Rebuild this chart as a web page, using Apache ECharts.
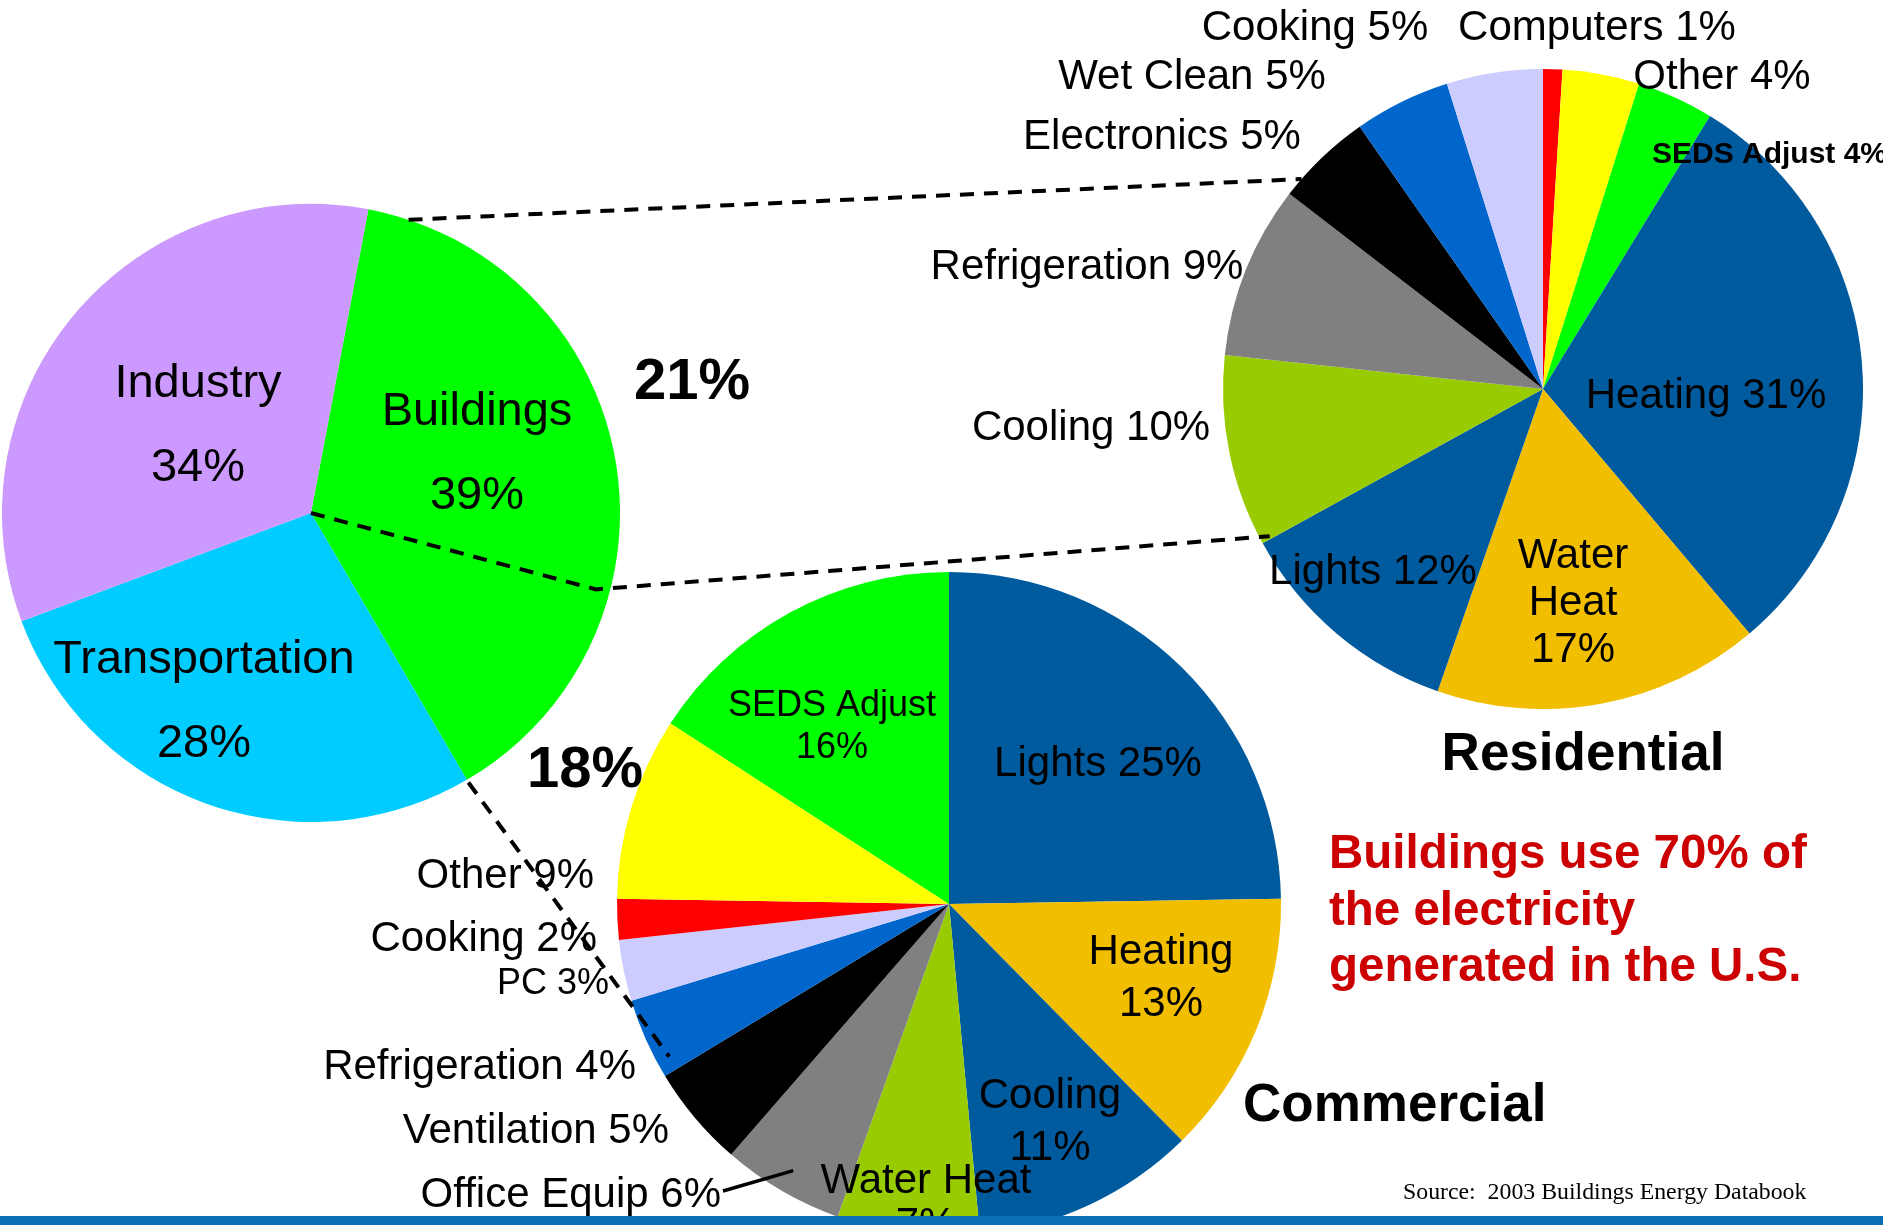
<!DOCTYPE html>
<html><head><meta charset="utf-8">
<script src="https://cdn.jsdelivr.net/npm/echarts@6/dist/echarts.min.js"></script>
<style>html,body{margin:0;padding:0;background:#fff}#c{width:1883px;height:1225px}</style>
</head><body><div id="c"></div>
<script>
// ---------- data ----------
const mainNames = ['Buildings', 'Transportation', 'Industry'];
const mainValues = [39, 28, 34];
const buildingShares = ['21%', '18%'];           // residential / commercial share of all energy
const resNames = ['Computers', 'Other', 'SEDS Adjust', 'Heating', 'Water Heat', 'Lights', 'Cooling', 'Refrigeration', 'Electronics', 'Wet Clean', 'Cooking'];
const resValues = [1, 4, 4, 31, 17, 12, 10, 9, 5, 5, 5];
const comNames = ['Lights', 'Heating', 'Cooling', 'Water Heat', 'Office Equip', 'Ventilation', 'Refrigeration', 'PC', 'Cooking', 'Other', 'SEDS Adjust'];
const comValues = [25, 13, 11, 7, 6, 5, 4, 3, 2, 9, 16];
const titles = ['Residential', 'Commercial'];
const message = 'Buildings use 70% of\nthe electricity\ngenerated in the U.S.';
const source = 'Source:  2003 Buildings Energy Databook';

// ---------- styles / layout ----------
const FONT = '"Liberation Sans", Arial, Helvetica, sans-serif';
const DKBLUE = '#005a9e';
const colorOf = {
  'Buildings': '#00ff00', 'Transportation': '#00ccff', 'Industry': '#cc99ff',
  'Computers': '#ff0000', 'Other': '#ffff00', 'SEDS Adjust': '#00ff00', 'Heating': DKBLUE,
  'Water Heat': '#f2be00', 'Lights': DKBLUE, 'Cooling': '#99cc00', 'Refrigeration': '#808080',
  'Electronics': '#000000', 'Wet Clean': '#0066cc', 'Cooking': '#ccccff'
};
const comColorOf = {
  'Lights': DKBLUE, 'Heating': '#f2be00', 'Cooling': DKBLUE, 'Water Heat': '#99cc00',
  'Office Equip': '#808080', 'Ventilation': '#000000', 'Refrigeration': '#0066cc',
  'PC': '#ccccff', 'Cooking': '#ff0000', 'Other': '#ffff00', 'SEDS Adjust': '#00ff00'
};
const mainC = [311, 513], mainR = 309, mainStart = 79.3;
const resC = [1543, 389], resR = 320;
const comC = [949, 904], comR = 332;

const mainLabelPos = { 'Buildings': [477, 454], 'Transportation': [204, 702], 'Industry': [198, 426] };
const resLabelPos = {
  'Computers': [1597, 28], 'Other': [1722, 77], 'SEDS Adjust': [1652, 155, 'left'],
  'Heating': [1706, 396], 'Water Heat': [1573, 603], 'Lights': [1373, 572],
  'Cooling': [1091, 428], 'Refrigeration': [1087, 267], 'Electronics': [1162, 137],
  'Wet Clean': [1192, 77], 'Cooking': [1315, 28]
};
const comLabelPos = {
  'Lights': [1098, 764], 'Heating': [1161, 978], 'Cooling': [1050, 1122], 'Water Heat': [926, 1203],
  'Office Equip': [721, 1195, 'right'], 'Ventilation': [669, 1131, 'right'],
  'Refrigeration': [636, 1067, 'right'], 'PC': [609, 984, 'right'], 'Cooking': [597, 939, 'right'],
  'Other': [594, 876, 'right'], 'SEDS Adjust': [832, 727]
};

// point on a pie at angle deg (clockwise from 12 o'clock)
function pt(c, r, deg) { const a = deg * Math.PI / 180; return [c[0] + r * Math.sin(a), c[1] - r * Math.cos(a)]; }
function midAngle(values, idx, startDeg) {
  const tot = values.reduce((a, b) => a + b, 0);
  let before = 0; for (let i = 0; i < idx; i++) before += values[i];
  return startDeg + (before + values[idx] / 2) / tot * 360;
}

function layoutFrom(table, names) {
  return function (p) {
    const L = table[names[p.dataIndex]];
    return { x: L[0], y: L[1], align: L[2] || 'center', verticalAlign: 'middle' };
  };
}

const mainData = mainNames.map((n, i) => ({ name: n, value: mainValues[i], itemStyle: { color: colorOf[n] } }));
const resData = resNames.map((n, i) => {
  const d = { name: n, value: resValues[i], itemStyle: { color: colorOf[n] } };
  if (n === 'SEDS Adjust') d.label = { fontSize: 30, fontWeight: 'bold' };
  if (n === 'Water Heat') d.label = { lineHeight: 47, formatter: p => p.name.replace(' ', '\n') + '\n' + p.value + '%' };
  return d;
});
const twoLineCom = { 'Heating': 52, 'Cooling': 52, 'Water Heat': 44, 'SEDS Adjust': 42 };
const comData = comNames.map((n, i) => {
  const d = { name: n, value: comValues[i], itemStyle: { color: comColorOf[n] } };
  if (twoLineCom[n]) d.label = { lineHeight: twoLineCom[n], formatter: '{b}\n{c}%' };
  if (n === 'SEDS Adjust') d.label.fontSize = 36;
  if (n === 'PC') d.label = { fontSize: 36 };
  return d;
});

// leader line for the Office Equip label, drawn on top of its slice
const officeIdx = comNames.indexOf('Office Equip');
const officeLbl = comLabelPos['Office Equip'];
const officeLeader = [[officeLbl[0] + 2, officeLbl[1] - 4], pt(comC, comR * 0.93, midAngle(comValues, officeIdx, 0))];

// connector geometry
const mainTotal = mainValues.reduce((a, b) => a + b, 0);
const bldStartDeg = 90 - mainStart;
const bldEndDeg = bldStartDeg + mainValues[0] / mainTotal * 360;
const dash = { stroke: '#000', lineWidth: 4, lineDash: [14, 10], fill: null };
const connectors = [
  [pt(mainC, mainR, 18.4), pt(resC, resR, 311)],
  [mainC, pt(mainC, mainR * 0.955, 105), pt(resC, resR * 0.97, 241.7)],
  [pt(mainC, mainR * 1.01, bldEndDeg), pt(comC, comR * 0.96, 241.4)]
];

const chart = echarts.init(document.getElementById('c'), null, { renderer: 'canvas' });
const baseLabel = { color: '#000', fontFamily: FONT, fontSize: 42 };
chart.setOption({
  backgroundColor: '#fff',
  animation: false,
  series: [
    {
      type: 'pie', center: mainC, radius: mainR, startAngle: mainStart, clockwise: true,
      avoidLabelOverlap: false, silent: true, z: 2,
      label: Object.assign({}, baseLabel, { position: 'outside', fontSize: 47, lineHeight: 84, formatter: '{b}\n{c}%' }),
      labelLine: { show: false },
      labelLayout: layoutFrom(mainLabelPos, mainNames),
      data: mainData
    },
    {
      type: 'pie', center: resC, radius: resR, startAngle: 90, clockwise: true,
      avoidLabelOverlap: false, silent: true, z: 2,
      label: Object.assign({}, baseLabel, { position: 'outside', formatter: '{b} {c}%' }),
      labelLine: { show: false },
      labelLayout: layoutFrom(resLabelPos, resNames),
      data: resData
    },
    {
      type: 'pie', center: comC, radius: comR, startAngle: 90, clockwise: true,
      avoidLabelOverlap: false, silent: true, z: 2,
      label: Object.assign({}, baseLabel, { position: 'outside', formatter: '{b} {c}%' }),
      labelLine: { show: false },
      labelLayout: layoutFrom(comLabelPos, comNames),
      data: comData
    }
  ],
  graphic: [
    ...connectors.map(pts => ({ type: 'polyline', z: 50, silent: true, shape: { points: pts }, style: dash })),
    { type: 'polyline', z: 55, silent: true, shape: { points: officeLeader }, style: { stroke: '#000', lineWidth: 3.5, fill: null } },
    { type: 'text', z: 60, x: 692, y: 383, style: { text: buildingShares[0], font: 'bold 58px ' + FONT, fill: '#000', align: 'center', verticalAlign: 'middle' } },
    { type: 'text', z: 60, x: 585, y: 771, style: { text: buildingShares[1], font: 'bold 58px ' + FONT, fill: '#000', align: 'center', verticalAlign: 'middle' } },
    { type: 'text', z: 60, x: 1583, y: 755, style: { text: titles[0], font: 'bold 53px ' + FONT, fill: '#000', align: 'center', verticalAlign: 'middle' } },
    { type: 'text', z: 60, x: 1243, y: 1106, style: { text: titles[1], font: 'bold 53px ' + FONT, fill: '#000', align: 'left', verticalAlign: 'middle' } },
    { type: 'text', z: 60, x: 1329, y: 827, style: { text: message, font: 'bold 47.5px ' + FONT, lineHeight: 56.5, fill: '#cc0000', align: 'left', verticalAlign: 'top' } },
    { type: 'text', z: 60, x: 1403, y: 1193, style: { text: source, font: '23.8px "Liberation Serif", "Times New Roman", serif', fill: '#000', align: 'left', verticalAlign: 'middle' } },
    { type: 'rect', z: 100, silent: true, shape: { x: 0, y: 1216, width: 1883, height: 9 }, style: { fill: '#0b6fb3' } }
  ]
});
</script>
</body></html>
